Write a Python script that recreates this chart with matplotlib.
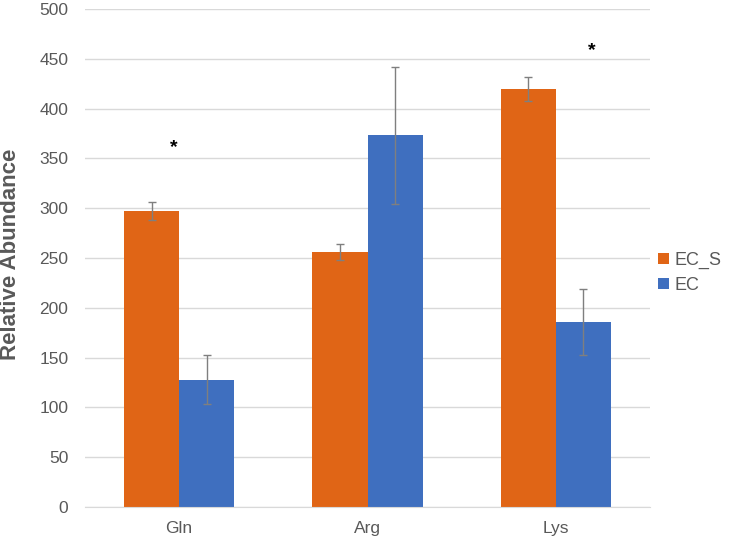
import matplotlib
matplotlib.use("Agg")
import matplotlib.pyplot as plt
import numpy as np

plt.rcParams["font.family"] = ["Liberation Sans", "DejaVu Sans"]

categories = ["Gln", "Arg", "Lys"]
ec_s = [297, 256, 420]
ec_s_err = [9, 8, 12]
ec = [128, 373, 186]
ec_err = [25, 69, 33]
star_x = [-0.03, 2.19]
star_y = [361, 458]
yticks = [0, 50, 100, 150, 200, 250, 300, 350, 400, 450, 500]

orange = "#E06516"
blue = "#3F6FBF"
gray_text = "#595959"

fig = plt.figure(figsize=(7.32, 5.41), dpi=100)
ax = fig.add_axes([85/732, 34/541, 565/732, 498/541])

x = np.arange(len(categories))
w = 0.293
ax.bar(x - w/2, ec_s, w, color=orange, label="EC_S", zorder=2)
ax.bar(x + w/2, ec, w, color=blue, label="EC", zorder=2)
ax.errorbar(x - w/2, ec_s, yerr=ec_s_err, fmt="none", ecolor="#7f7f7f",
            elinewidth=1, capsize=3, capthick=1, zorder=3)
ax.errorbar(x + w/2, ec, yerr=ec_err, fmt="none", ecolor="#7f7f7f",
            elinewidth=1, capsize=3, capthick=1, zorder=3)

for sx, sy in zip(star_x, star_y):
    ax.text(sx, sy, "*", ha="center", va="center", fontsize=14,
            fontweight="bold", color="black")

ax.set_xlim(-0.5, 2.5)
ax.set_ylim(0, 500)
ax.set_yticks(yticks)
ax.set_xticks(x)
ax.set_xticklabels(categories)
ax.yaxis.grid(True, color="#d9d9d9", linewidth=1, zorder=0)
ax.set_axisbelow(True)
for s in ["top", "right", "left"]:
    ax.spines[s].set_visible(False)
ax.spines["bottom"].set_color("#d9d9d9")
ax.tick_params(axis="both", length=0, labelsize=12.5, colors=gray_text)
ax.tick_params(axis="y", pad=12)
ax.tick_params(axis="x", pad=10)
ax.set_ylabel("Relative Abundance", fontsize=16, fontweight="bold",
              color=gray_text, va="center")
ax.yaxis.set_label_coords(-0.131, 0.508)

ax.legend(loc="center left", bbox_to_anchor=(0.985, 0.47), frameon=False,
          fontsize=13, handlelength=0.6, handleheight=0.6, handletextpad=0.3,
          labelcolor=gray_text, labelspacing=0.45)

fig.savefig("out.png", dpi=100)
